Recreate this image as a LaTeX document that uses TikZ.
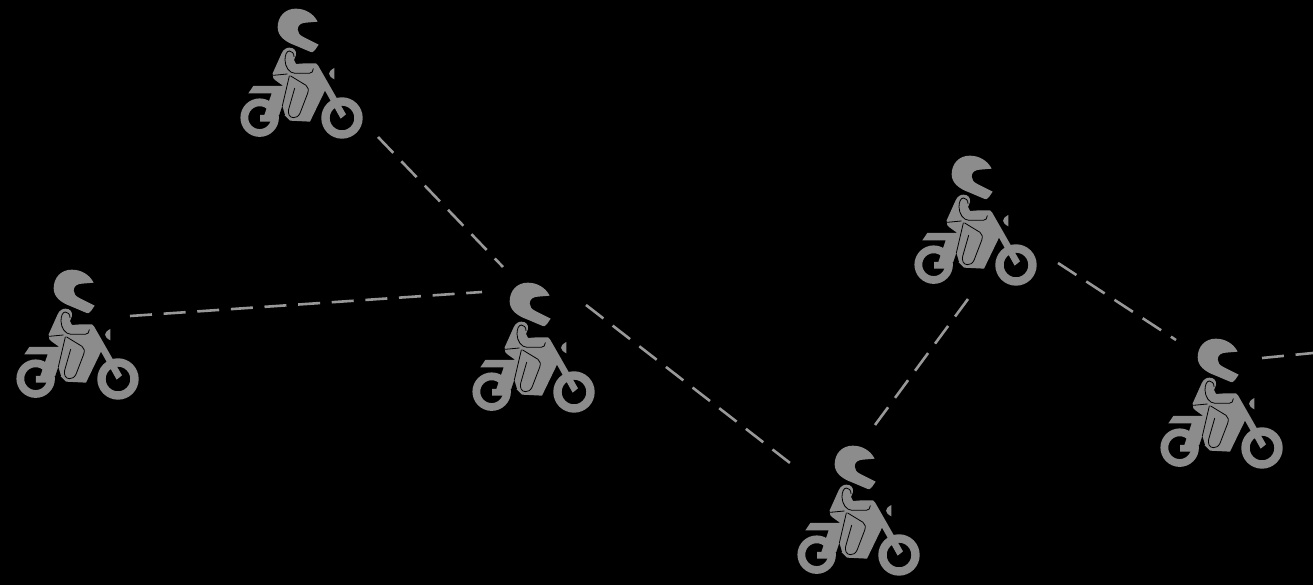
\documentclass[tikz,border=0pt]{standalone}
\definecolor{icongray}{HTML}{8C8C8C}
\definecolor{dashgray}{HTML}{989898}
\tikzset{
  dashlink/.style={draw=dashgray,line width=2.6pt,dash pattern=on 22pt off 11.7pt},
  detail/.style={draw=black,line width=0.8pt,line cap=round},
  rider/.pic={
    \begin{scope}[x=0.3333pt,y=-0.3333pt]
      \draw[icongray,line width=7.8pt] (89,353) circle (46);
      \draw[icongray,line width=8.4pt] (336,354) circle (49.5);
      % body, tank, fork and rider
      \fill[icongray] (90,345) -- (103,345) -- (125,280) -- (55,280) -- (70,258) -- (160,258) -- (135,240)
        -- (130,235) -- (128,220) -- (155,160) .. controls (160,148) and (170,143) .. (178,143)
        .. controls (192,143) and (200,152) .. (198,165) -- (192,180) -- (198,192) -- (225,190) -- (258,190)
        -- (264,196) -- (295,250) -- (348,343) -- (332,356) -- (285,272) -- (240,365) -- (180,362) -- (163,345)
        -- (146,345) -- (125,365) -- (90,365) -- cycle;
      % headlight
      \fill[icongray] (313,204) .. controls (292,215) and (292,227) .. (313,238) -- cycle;
      % helmet
      \fill[icongray] (263,65) .. controls (250,40) and (225,26) .. (197,26)
        .. controls (165,26) and (143,50) .. (143,82) .. controls (143,108) and (165,125) .. (195,136)
        -- (235,153) .. controls (245,158) and (252,158) .. (255,150) -- (266,134) -- (222,112)
        .. controls (208,105) and (203,98) .. (203,88) .. controls (203,75) and (215,68) .. (228,68) -- cycle;
      % rider detail lines
      \draw[detail] (130,226) -- (172,222);
      \draw[detail] (192,170) .. controls (192,160) and (186,153) .. (178,153)
        .. controls (170,153) and (165,165) .. (165,180) .. controls (165,200) and (178,220) .. (195,220)
        -- (238,220) .. controls (245,220) and (250,214) .. (250,206);
      \draw[detail] (178,228) -- (157,318);
      \draw[detail] (182,228) -- (228,256) .. controls (236,262) and (236,270) .. (233,280)
        -- (210,340) .. controls (205,350) and (198,353) .. (190,353) .. controls (178,353) and (173,340) .. (176,328) -- (194,265);
      \fill[black] (148,345) -- (157,318) -- (165,345) -- cycle;
    \end{scope}
  }
}
\begin{document}
\begin{tikzpicture}[x=1pt,y=-1pt]
  \useasboundingbox (0,0) rectangle (1313,585);
  \fill[black] (0,0) rectangle (1313,585);
  \pic at (230,0) {rider};
  \pic at (6,261) {rider};
  \pic at (462,274) {rider};
  \pic at (787,437) {rider};
  \pic at (904,147) {rider};
  \pic at (1150,330) {rider};
  \coordinate (a1) at (378,137); \coordinate (a2) at (503,267);
  \coordinate (b1) at (130,316); \coordinate (b2) at (482,292);
  \coordinate (c1) at (586,305); \coordinate (c2) at (790,463);
  \coordinate (d1) at (875,425); \coordinate (d2) at (968,299);
  \coordinate (e1) at (1058,263); \coordinate (e2) at (1176,340);
  \coordinate (f1) at (1262,358); \coordinate (f2) at (1313,353);
  \draw[dashlink] (a1) -- (a2);
  \draw[dashlink] (b1) -- (b2);
  \draw[dashlink] (c1) -- (c2);
  \draw[dashlink] (d1) -- (d2);
  \draw[dashlink] (e1) -- (e2);
  \draw[dashlink] (f1) -- (f2);
\end{tikzpicture}
\end{document}
